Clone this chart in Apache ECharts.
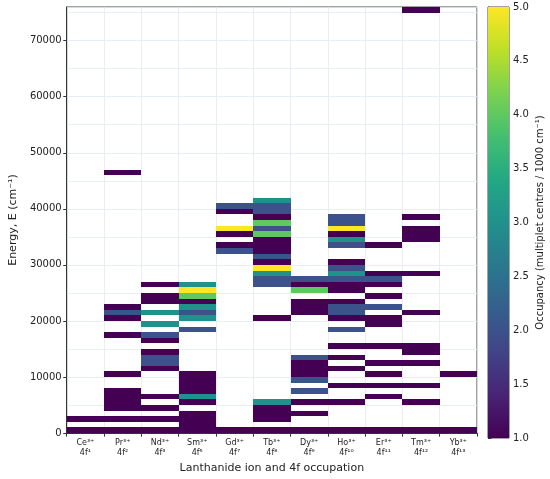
<!DOCTYPE html>
<html>
<head>
<meta charset="utf-8">
<title>Lanthanide multiplet occupancy</title>
<script src="https://cdn.jsdelivr.net/npm/echarts@6.0.0/dist/echarts.min.js"></script>
<style>
  html, body { margin: 0; padding: 0; background: #fff; }
  #chart { width: 550px; height: 479px; }
</style>
</head>
<body>
<div id="chart"></div>
<script>
// categories on x
const ions = ['Ce³⁺', 'Pr³⁺', 'Nd³⁺', 'Sm³⁺', 'Gd³⁺', 'Tb³⁺', 'Dy³⁺', 'Ho³⁺', 'Er³⁺', 'Tm³⁺', 'Yb³⁺']
const configs = ['4f¹', '4f²', '4f³', '4f⁵', '4f⁷', '4f⁸', '4f⁹', '4f¹⁰', '4f¹¹', '4f¹²', '4f¹³']

// energy bins are 1000 cm-1 wide, [bin index, multiplet centres in bin]
const binSize = 1000
const ceCells = [[0, 1], [2, 1]]
const prCells = [[0, 1], [2, 1], [4, 1], [5, 1], [6, 1], [7, 1], [10, 1], [17, 1], [20, 1], [21, 2], [22, 1], [46, 1]]
const ndCells = [[0, 1], [2, 1], [4, 1], [6, 1], [11, 1], [12, 2], [13, 2], [14, 1], [16, 1], [17, 2], [19, 3], [21, 3], [23, 1], [24, 1], [26, 1]]
const smCells = [[0, 1], [1, 1], [2, 1], [3, 1], [5, 1], [6, 3], [7, 1], [8, 1], [9, 1], [10, 1], [18, 2], [20, 3], [21, 2], [22, 3], [23, 1], [24, 4], [25, 5], [26, 3]]
const gdCells = [[0, 1], [32, 2], [33, 1], [35, 1], [36, 5], [39, 1], [40, 2]]
const tbCells = [[0, 1], [2, 1], [3, 1], [4, 1], [5, 3], [20, 1], [26, 2], [27, 2], [28, 3], [29, 5], [30, 1], [31, 2], [32, 1], [33, 1], [34, 1], [35, 4], [36, 2], [37, 4], [38, 1], [39, 2], [40, 2], [41, 3]]
const dyCells = [[0, 1], [3, 1], [5, 1], [7, 2], [9, 2], [10, 1], [11, 1], [12, 1], [13, 2], [21, 1], [22, 1], [23, 1], [25, 4], [26, 1], [27, 2]]
const hoCells = [[0, 1], [5, 1], [8, 1], [11, 1], [13, 1], [15, 1], [18, 2], [20, 1], [21, 2], [22, 2], [23, 1], [25, 1], [26, 1], [27, 2], [28, 3], [29, 2], [30, 1], [33, 2], [34, 3], [35, 1], [36, 5], [37, 2], [38, 2]]
const erCells = [[0, 1], [6, 1], [8, 1], [10, 1], [12, 1], [15, 1], [19, 1], [20, 1], [22, 2], [24, 1], [26, 1], [27, 2], [28, 1], [33, 1]]
const tmCells = [[0, 1], [5, 1], [8, 1], [12, 1], [14, 1], [15, 1], [21, 1], [28, 1], [34, 1], [35, 1], [36, 1], [38, 1], [75, 1]]
const ybCells = [[0, 1], [10, 1]]

// axis ticks
const yTickValues = [0, 10000, 20000, 30000, 40000, 50000, 60000, 70000]
const yMax = 76000
const occMin = 1
const occMax = 5

const viridis = ['#440154', '#482475', '#414487', '#355f8d', '#2a788e', '#21918c',
  '#22a884', '#44bf70', '#7ad151', '#bddf26', '#fde725']

const font = 'DejaVu Sans, Liberation Sans, sans-serif'
const gridColor = '#e2eaf2'
const axisColor = '#333'

// flatten to [x index, bin start energy, occupancy]
const cellsByIon = [ceCells, prCells, ndCells, smCells, gdCells, tbCells, dyCells, hoCells, erCells, tmCells, ybCells]
const heatData = []
cellsByIon.forEach((cells, i) => {
  cells.forEach(([bin, count]) => {
    heatData.push([i, bin * binSize, count])
  })
})

function renderCell(params, api) {
  const lo = api.coord([api.value(0), api.value(1)])
  const hi = api.coord([api.value(0), api.value(1) + binSize])
  const bw = api.size([1, 0])[0]
  // snap edges to whole pixels so stacked bins have no seams
  const x0 = Math.round(lo[0] - bw / 2)
  const x1 = Math.round(lo[0] + bw / 2)
  const y0 = Math.round(hi[1])
  const y1 = Math.round(lo[1])
  return {
    type: 'rect',
    shape: { x: x0, y: y0, width: x1 - x0, height: y1 - y0 },
    style: { fill: api.visual('color') }
  }
}

// colour bar drawn as a gradient rect on its own value axis
function renderColorbar(params, api) {
  const lo = api.coord([0, api.value(1)])
  const hi = api.coord([1, api.value(2)])
  const stops = viridis.map((c, i) => ({ offset: i / (viridis.length - 1), color: c }))
  return {
    type: 'rect',
    shape: { x: lo[0], y: hi[1], width: hi[0] - lo[0], height: lo[1] - hi[1] },
    style: { fill: new echarts.graphic.LinearGradient(0, 1, 0, 0, stops) }
  }
}

const chart = echarts.init(document.getElementById('chart'), null, { renderer: 'canvas' })

const option = {
  animation: false,
  backgroundColor: '#fff',
  textStyle: { fontFamily: font },
  grid: [
    { left: 56, right: 73, top: 7, bottom: 41, show: true, borderColor: '#444', borderWidth: 1, backgroundColor: 'transparent' },
    { left: 488, width: 21, top: 7, bottom: 41, show: true, borderColor: '#444', borderWidth: 1, backgroundColor: 'transparent' }
  ],
  visualMap: {
    type: 'continuous',
    show: false,
    min: occMin,
    max: occMax,
    dimension: 2,
    seriesIndex: 0,
    inRange: { color: viridis }
  },
  xAxis: [
    {
      gridIndex: 0,
      type: 'category',
      data: ions,
      boundaryGap: true,
      axisLine: { lineStyle: { color: axisColor } },
      axisTick: { show: true, length: 3.5, lineStyle: { color: axisColor } },
      axisLabel: {
        interval: 0,
        margin: 5,
        color: '#222',
        fontSize: 8,
        lineHeight: 10,
        fontFamily: font,
        formatter: (v, i) => v + '\n' + configs[i]
      },
      splitLine: { show: true, lineStyle: { color: gridColor, width: 0.8 } },
      name: 'Lanthanide ion and 4f occupation',
      nameLocation: 'middle',
      nameGap: 23,
      nameTextStyle: { fontSize: 11, color: '#222', fontFamily: font }
    },
    { gridIndex: 1, type: 'value', min: 0, max: 1, show: false }
  ],
  yAxis: [
    {
      gridIndex: 0,
      type: 'value',
      min: 0,
      max: yMax,
      axisLine: { show: true, lineStyle: { color: axisColor } },
      axisTick: { show: true, length: 3.5, lineStyle: { color: axisColor }, customValues: yTickValues },
      axisLabel: { color: '#222', fontSize: 10, margin: 5, fontFamily: font, customValues: yTickValues, formatter: v => String(v) },
      splitLine: { show: false },
      name: 'Energy, E (cm⁻¹)',
      nameLocation: 'middle',
      nameRotate: 90,
      nameGap: 38,
      nameTextStyle: { fontSize: 11, color: '#222', fontFamily: font }
    },
    {
      // gridlines every 5000 cm-1
      gridIndex: 0,
      type: 'value',
      min: 0,
      max: yMax,
      interval: 5000,
      position: 'left',
      axisLine: { show: false },
      axisTick: { show: false },
      axisLabel: { show: false },
      splitLine: { show: true, lineStyle: { color: gridColor, width: 0.8 } }
    },
    {
      gridIndex: 1,
      type: 'value',
      min: occMin,
      max: occMax,
      interval: 0.5,
      position: 'right',
      axisLine: { show: true, lineStyle: { color: axisColor } },
      axisTick: { show: true, length: 3.5, lineStyle: { color: axisColor } },
      axisLabel: { color: '#222', fontSize: 10, margin: 4, fontFamily: font, formatter: v => v.toFixed(1) },
      splitLine: { show: false },
      name: 'Occupancy (multiplet centres / 1000 cm⁻¹)',
      nameLocation: 'middle',
      nameRotate: 90,
      nameGap: 26,
      nameTextStyle: { fontSize: 10, color: '#222', fontFamily: font }
    }
  ],
  series: [
    {
      type: 'custom',
      name: 'occupancy',
      xAxisIndex: 0,
      yAxisIndex: 0,
      renderItem: renderCell,
      encode: { x: 0, y: 1 },
      clip: true,
      data: heatData
    },
    {
      type: 'custom',
      name: 'colorbar',
      xAxisIndex: 1,
      yAxisIndex: 2,
      renderItem: renderColorbar,
      encode: { y: [1, 2] },
      data: [[0, occMin, occMax]]
    }
  ]
}

chart.setOption(option)
</script>
</body>
</html>
